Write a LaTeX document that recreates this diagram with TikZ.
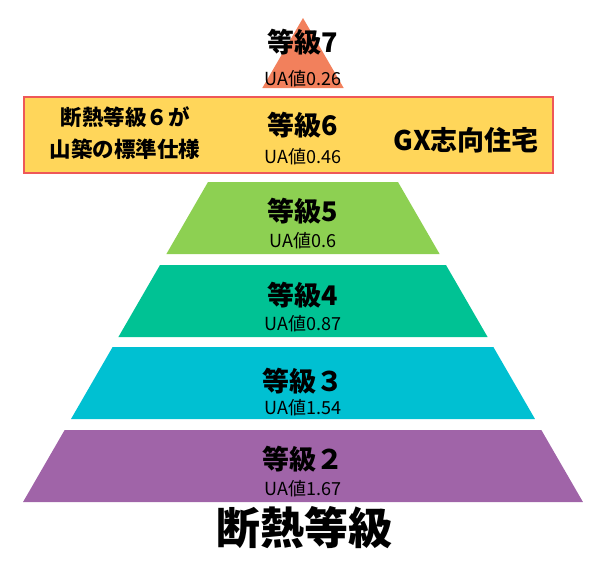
\documentclass[tikz,border=0pt]{standalone}
\usepackage{fontspec}
\usepackage{tikz}
\newfontfamily\jpfont{Noto Sans CJK JP}
\definecolor{lvseven}{RGB}{242,128,92}
\definecolor{lvfive}{RGB}{141,208,82}
\definecolor{lvfour}{RGB}{0,194,148}
\definecolor{lvthree}{RGB}{0,192,210}
\definecolor{lvtwo}{RGB}{160,100,168}
\definecolor{gxfill}{RGB}{255,214,90}
\definecolor{gxline}{RGB}{238,88,88}

\begin{document}
\begin{tikzpicture}[x=1pt, y=-1pt,
    grade/.style={font=\jpfont\bfseries\fontsize{27}{27}\selectfont, inner sep=0pt},
    uaval/.style={font=\jpfont\fontsize{18}{18}\selectfont, inner sep=0pt},
    gxnote/.style={font=\jpfont\bfseries\fontsize{21.5}{32}\selectfont, inner sep=0pt, align=center}]
    \useasboundingbox (0, 0) rectangle (600, 565);
    % pyramid layers, sides on the same two lines
    \fill[lvseven] (303, 18) -- (343.7, 88) -- (262.3, 88) -- cycle;
    \foreach \ytop/\ybot/\col in {182/254/lvfive, 265/337/lvfour, 347/419/lvthree, 430/502/lvtwo} {
        \pgfmathsetmacro{\wtop}{95 + 0.578*(\ytop - 182)}
        \pgfmathsetmacro{\wbot}{95 + 0.578*(\ybot - 182)}
        \fill[\col] (303 - \wtop, \ytop) -- (303 + \wtop, \ytop) -- (303 + \wbot, \ybot) -- (303 - \wbot, \ybot) -- cycle;
    }
    % band of grade 6
    \draw[gxline, line width=2.5pt, fill=gxfill] (24, 97) rectangle (553, 173);
    \node[gxnote] (std) at (125, 133) {断熱等級６が\\山築の標準仕様};
    \node[grade] (gx) at (466, 140) {GX志向住宅};
    % grade labels
    \foreach \n/\yt/\yu/\lbl/\ua in {7/42/79/等級7/0.26, 6/125/157/等級6/0.46, 5/211/241/等級5/0.6,
        4/295/324/等級4/0.87, 3/381/408/等級３/1.54, 2/459/489/等級２/1.67} {
        \node[grade] (t\n) at (303, \yt) {\lbl};
        \node[uaval] (u\n) at (303, \yu) {UA値\ua};
    }
    \node[font=\jpfont\bfseries\fontsize{44}{44}\selectfont, inner sep=0pt] (title) at (304, 528) {断熱等級};
\end{tikzpicture}
\end{document}
